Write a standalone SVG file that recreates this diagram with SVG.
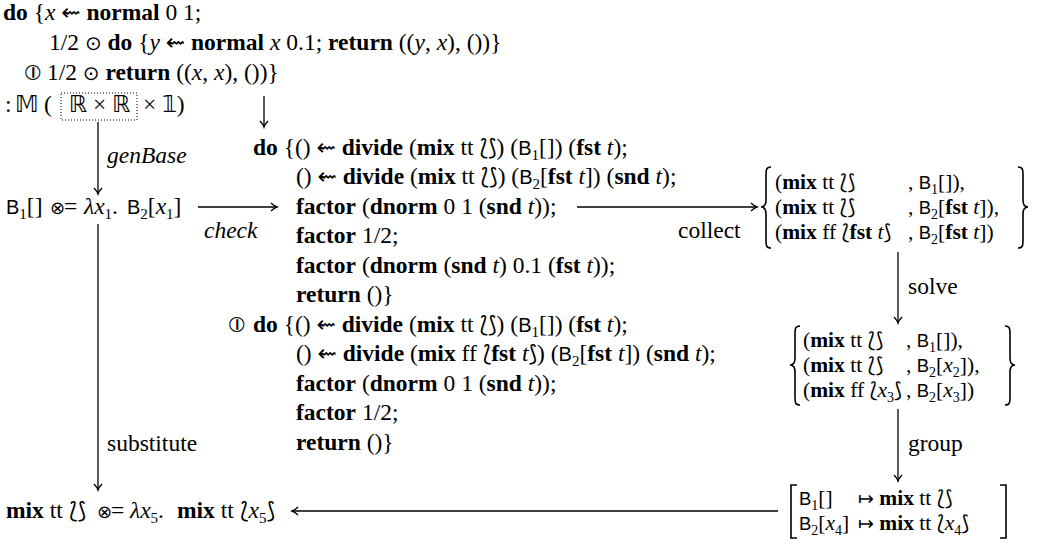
<svg xmlns="http://www.w3.org/2000/svg" width="1041" height="547" viewBox="0 0 1041 547">
<style>
text { font-family: "Liberation Serif", "DejaVu Serif", serif; font-size: 23.5px; fill: #000; }
.b { font-weight: bold; }
.i { font-style: italic; }
.sf { font-family: "Liberation Sans", sans-serif; font-size: 20px; font-style: normal; font-weight: normal; }
.sy { font-family: "DejaVu Sans", sans-serif; font-size: 20px; font-weight: normal; font-style: normal; }
.op { font-family: "DejaVu Sans", sans-serif; font-size: 18px; font-weight: normal; font-style: normal; }
.ci { font-family: "DejaVu Sans", sans-serif; font-size: 22px; font-weight: normal; font-style: normal; }
.ar { font-family: "DejaVu Sans", sans-serif; font-size: 23px; font-weight: normal; font-style: normal; }
.bag { font-family: "DejaVu Sans", sans-serif; font-size: 22px; font-weight: normal; font-style: normal; }
.bb { font-family: "DejaVu Sans", sans-serif; font-size: 23px; font-weight: normal; }
.sub { font-size: 15px; }
.set text { font-size: 21.5px; }
.set .sf { font-size: 18.5px; }
.set .bag { font-size: 20.5px; }
.set .sy { font-size: 19px; }
.set .sub { font-size: 14px; }
.edge { stroke: #000; stroke-width: 1.3; fill: none; }
.delim { stroke: #000; stroke-width: 1.6; fill: none; }
.box { stroke: #000; stroke-width: 1; fill: none; stroke-dasharray: 1 2; }
</style>
<defs>
<marker id="ah" markerWidth="12" markerHeight="12" refX="10" refY="6" orient="auto" markerUnits="userSpaceOnUse">
<path d="M4,2 Q7.5,5.3 10,6 Q7.5,6.7 4,10" fill="none" stroke="#000" stroke-width="1.3"/>
</marker>
</defs>
<rect width="1041" height="547" fill="#fff"/>

<g id="connectors">
<path class="edge" d="M264,96 L264,127" marker-end="url(#ah)"/>
<path class="edge" d="M98,122 L98,194" marker-end="url(#ah)"/>
<path class="edge" d="M198,207 L277,207" marker-end="url(#ah)"/>
<path class="edge" d="M577,207 L757,207" marker-end="url(#ah)"/>
<path class="edge" d="M98,224 L98,490" marker-end="url(#ah)"/>
<path class="edge" d="M898,252 L898,323" marker-end="url(#ah)"/>
<path class="edge" d="M898,409 L898,481" marker-end="url(#ah)"/>
<path class="edge" d="M778,511 L292,511" marker-end="url(#ah)"/>
<text class="i" x="107" y="163">genBase</text>
<text class="i" x="204" y="238">check</text>
<text x="678" y="238">collect</text>
<text x="908" y="294">solve</text>
<text x="908" y="451">group</text>
<text x="107" y="451">substitute</text>
</g>

<g id="node-program">
<text x="3" y="20"><tspan class="b">do</tspan> {<tspan class="i">x</tspan> <tspan class="ar">⇜</tspan> <tspan class="b">normal</tspan> 0 1;</text>
<text x="49" y="50">1/2 <tspan class="sy">⊙</tspan> <tspan class="b">do</tspan> {<tspan class="i">y</tspan> <tspan class="ar">⇜</tspan> <tspan class="b">normal</tspan> <tspan class="i">x</tspan> 0.1; <tspan class="b">return</tspan> ((<tspan class="i">y</tspan>, <tspan class="i">x</tspan>), ())}</text>
<text x="25" y="80"><tspan class="ci">⦶</tspan> 1/2 <tspan class="sy">⊙</tspan> <tspan class="b">return</tspan> ((<tspan class="i">x</tspan>, <tspan class="i">x</tspan>), ())}</text>
<text x="5" y="112">:</text>
<text x="15" y="112" class="bb">𝕄</text>
<text x="44" y="112">(</text>
<rect class="box" x="61" y="93" width="76" height="27"/>
<text x="69" y="112"><tspan class="bb">ℝ</tspan> × <tspan class="bb">ℝ</tspan></text>
<text x="143" y="112">× <tspan class="bb">𝟙</tspan>)</text>
</g>

<g id="node-base">
<text y="214"><tspan class="sf" x="6">B</tspan><tspan class="sub" dy="5">1</tspan><tspan dy="-5">[]</tspan><tspan class="op" x="50">⊗</tspan><tspan dx="-1">=</tspan><tspan class="i" x="84">λx</tspan><tspan class="sub" dy="5">1</tspan><tspan dy="-5">.</tspan><tspan class="sf" x="127">B</tspan><tspan class="sub" dy="5">2</tspan><tspan dy="-5">[</tspan><tspan class="i">x</tspan><tspan class="sub" dy="5">1</tspan><tspan dy="-5">]</tspan></text>
</g>

<g id="node-checked">
<text x="253" y="155"><tspan class="b">do</tspan> {() <tspan class="ar">⇜</tspan> <tspan class="b">divide</tspan> (<tspan class="b">mix</tspan> tt <tspan class="bag">⟅⟆</tspan>) (<tspan class="sf">B</tspan><tspan class="sub" dy="5">1</tspan><tspan dy="-5">[]) (</tspan><tspan class="b">fst</tspan> <tspan class="i">t</tspan>);</text>
<text x="296" y="184">() <tspan class="ar">⇜</tspan> <tspan class="b">divide</tspan> (<tspan class="b">mix</tspan> tt <tspan class="bag">⟅⟆</tspan>) (<tspan class="sf">B</tspan><tspan class="sub" dy="5">2</tspan><tspan dy="-5">[</tspan><tspan class="b">fst</tspan> <tspan class="i">t</tspan>]) (<tspan class="b">snd</tspan> <tspan class="i">t</tspan>);</text>
<text x="296" y="214"><tspan class="b">factor</tspan> (<tspan class="b">dnorm</tspan> 0 1 (<tspan class="b">snd</tspan> <tspan class="i">t</tspan>));</text>
<text x="296" y="243"><tspan class="b">factor</tspan> 1/2;</text>
<text x="296" y="273"><tspan class="b">factor</tspan> (<tspan class="b">dnorm</tspan> (<tspan class="b">snd</tspan> <tspan class="i">t</tspan>) 0.1 (<tspan class="b">fst</tspan> <tspan class="i">t</tspan>));</text>
<text x="296" y="302"><tspan class="b">return</tspan> ()}</text>
<text x="229" y="332"><tspan class="ci">⦶</tspan></text>
<text x="253" y="332"><tspan class="b">do</tspan> {() <tspan class="ar">⇜</tspan> <tspan class="b">divide</tspan> (<tspan class="b">mix</tspan> tt <tspan class="bag">⟅⟆</tspan>) (<tspan class="sf">B</tspan><tspan class="sub" dy="5">1</tspan><tspan dy="-5">[]) (</tspan><tspan class="b">fst</tspan> <tspan class="i">t</tspan>);</text>
<text x="296" y="361">() <tspan class="ar">⇜</tspan> <tspan class="b">divide</tspan> (<tspan class="b">mix</tspan> ff <tspan class="bag">⟅</tspan><tspan class="b">fst</tspan> <tspan class="i">t</tspan><tspan class="bag">⟆</tspan>) (<tspan class="sf">B</tspan><tspan class="sub" dy="5">2</tspan><tspan dy="-5">[</tspan><tspan class="b">fst</tspan> <tspan class="i">t</tspan>]) (<tspan class="b">snd</tspan> <tspan class="i">t</tspan>);</text>
<text x="296" y="391"><tspan class="b">factor</tspan> (<tspan class="b">dnorm</tspan> 0 1 (<tspan class="b">snd</tspan> <tspan class="i">t</tspan>));</text>
<text x="296" y="420"><tspan class="b">factor</tspan> 1/2;</text>
<text x="296" y="450"><tspan class="b">return</tspan> ()}</text>
</g>

<g id="node-collected" class="set">
<path class="delim" d="M771,167 C766,167 766,170 766,175 L766,200 C766,205 764,207 761,207 C764,207 766,209 766,214 L766,240 C766,245 766,248 771,248"/>
<path class="delim" d="M1018,167 C1023,167 1023,170 1023,175 L1023,200 C1023,205 1025,207 1028,207 C1025,207 1023,209 1023,214 L1023,240 C1023,245 1023,248 1018,248"/>
<text x="775" y="189">(<tspan class="b">mix</tspan> tt <tspan class="bag">⟅⟆</tspan></text>
<text x="775" y="214">(<tspan class="b">mix</tspan> tt <tspan class="bag">⟅⟆</tspan></text>
<text x="775" y="239">(<tspan class="b">mix</tspan> ff <tspan class="bag">⟅</tspan><tspan class="b">fst</tspan> <tspan class="i">t</tspan><tspan class="bag">⟆</tspan></text>
<text x="908" y="189">, <tspan class="sf">B</tspan><tspan class="sub" dy="5">1</tspan><tspan dy="-5">[]),</tspan></text>
<text x="908" y="214">, <tspan class="sf">B</tspan><tspan class="sub" dy="5">2</tspan><tspan dy="-5">[</tspan><tspan class="b">fst</tspan> <tspan class="i">t</tspan>]),</text>
<text x="908" y="239">, <tspan class="sf">B</tspan><tspan class="sub" dy="5">2</tspan><tspan dy="-5">[</tspan><tspan class="b">fst</tspan> <tspan class="i">t</tspan>])</text>
</g>

<g id="node-solved" class="set">
<path class="delim" d="M800,326 C795,326 795,329 795,334 L795,358 C795,363 793,365 790,365 C793,365 795,367 795,372 L795,397 C795,402 795,405 800,405"/>
<path class="delim" d="M1005,326 C1010,326 1010,329 1010,334 L1010,358 C1010,363 1012,365 1015,365 C1012,365 1010,367 1010,372 L1010,397 C1010,402 1010,405 1005,405"/>
<text x="803" y="347">(<tspan class="b">mix</tspan> tt <tspan class="bag">⟅⟆</tspan></text>
<text x="803" y="372">(<tspan class="b">mix</tspan> tt <tspan class="bag">⟅⟆</tspan></text>
<text x="803" y="397">(<tspan class="b">mix</tspan> ff <tspan class="bag">⟅</tspan><tspan class="i">x</tspan><tspan class="sub" dy="5">3</tspan><tspan class="bag" dy="-5">⟆</tspan></text>
<text x="906" y="347">, <tspan class="sf">B</tspan><tspan class="sub" dy="5">1</tspan><tspan dy="-5">[]),</tspan></text>
<text x="906" y="372">, <tspan class="sf">B</tspan><tspan class="sub" dy="5">2</tspan><tspan dy="-5">[</tspan><tspan class="i">x</tspan><tspan class="sub" dy="5">2</tspan><tspan dy="-5">]),</tspan></text>
<text x="906" y="397">, <tspan class="sf">B</tspan><tspan class="sub" dy="5">2</tspan><tspan dy="-5">[</tspan><tspan class="i">x</tspan><tspan class="sub" dy="5">3</tspan><tspan dy="-5">])</tspan></text>
</g>

<g id="node-grouped" class="set">
<path class="delim" d="M797,485 L791,485 L791,538 L797,538"/>
<path class="delim" d="M1000,485 L1006,485 L1006,538 L1000,538"/>
<text x="799" y="505"><tspan class="sf">B</tspan><tspan class="sub" dy="5">1</tspan><tspan dy="-5">[]</tspan></text>
<text x="799" y="530"><tspan class="sf">B</tspan><tspan class="sub" dy="5">2</tspan><tspan dy="-5">[</tspan><tspan class="i">x</tspan><tspan class="sub" dy="5">4</tspan><tspan dy="-5">]</tspan></text>
<text x="858" y="505"><tspan class="sy">↦</tspan> <tspan class="b">mix</tspan> tt <tspan class="bag">⟅⟆</tspan></text>
<text x="858" y="530"><tspan class="sy">↦</tspan> <tspan class="b">mix</tspan> tt <tspan class="bag">⟅</tspan><tspan class="i">x</tspan><tspan class="sub" dy="5">4</tspan><tspan class="bag" dy="-5">⟆</tspan></text>
</g>

<g id="node-result">
<text y="518"><tspan class="b" x="6">mix</tspan> tt <tspan class="bag" x="69">⟅⟆</tspan><tspan class="op" x="97">⊗</tspan><tspan dx="-1">=</tspan><tspan class="i" x="130">λx</tspan><tspan class="sub" dy="5">5</tspan><tspan dy="-5">.</tspan><tspan class="b" x="177">mix</tspan> tt <tspan class="bag" x="240">⟅</tspan><tspan class="i">x</tspan><tspan class="sub" dy="5">5</tspan><tspan class="bag" dy="-5">⟆</tspan></text>
</g>
</svg>
